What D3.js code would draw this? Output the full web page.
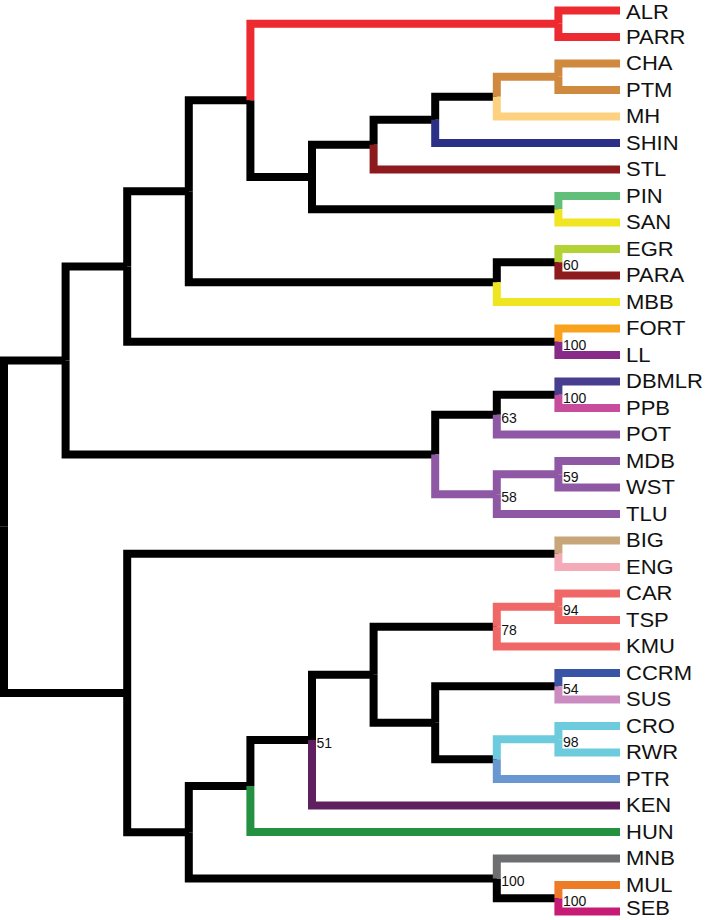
<!DOCTYPE html>
<html>
<head>
<meta charset="utf-8">
<script src="https://cdn.jsdelivr.net/npm/d3@7"></script>
<style>
  html, body { margin: 0; padding: 0; background: #ffffff; }
  svg { display: block; }
</style>
</head>
<body>
<div id="chart"></div>
<script>
// ---- DATA ----
// Tip (leaf) labels in plotting order, top to bottom
const tipLabels = ["ALR","PARR","CHA","PTM","MH","SHIN","STL","PIN","SAN","EGR","PARA","MBB",
  "FORT","LL","DBMLR","PPB","POT","MDB","WST","TLU","BIG","ENG","CAR","TSP","KMU","CCRM","SUS",
  "CRO","RWR","PTR","KEN","HUN","MNB","MUL","SEB"];

// Tree nodes (preorder): id, parent id, depth level (cladogram column), incoming-edge colour, support value
const nodeIds = ["root","nA","nB","nC","nF","nALRPARR","ALR","PARR","nG","nI","nJ","nK","nCHAPTM","CHA","PTM","MH","SHIN","STL",
  "nPINSAN","PIN","SAN","nH","nEGRPARA","EGR","PARA","MBB","nFORTLL","FORT","LL",
  "nP","nQ","nDP","DBMLR","PPB","POT","nR","nMW","MDB","WST","TLU",
  "nD","nBE","BIG","ENG","nE","nS","nT","nU","nV","nCT","CAR","TSP","KMU","nW","nCS","CCRM","SUS",
  "nX","nCR","CRO","RWR","PTR","KEN","HUN","nY","MNB","nMS","MUL","SEB"];
const nodeParents = ["","root","nA","nB","nC","nF","nALRPARR","nALRPARR","nF","nG","nI","nJ","nK","nCHAPTM","nCHAPTM","nK","nJ","nI",
  "nG","nPINSAN","nPINSAN","nC","nH","nEGRPARA","nEGRPARA","nH","nB","nFORTLL","nFORTLL",
  "nA","nP","nQ","nDP","nDP","nQ","nP","nR","nMW","nMW","nR",
  "root","nD","nBE","nBE","nD","nE","nS","nT","nU","nV","nCT","nCT","nV","nU","nW","nCS","nCS",
  "nW","nX","nCR","nCR","nX","nT","nS","nE","nY","nY","nMS","nMS"];
const nodeDepths = [0,1,2,3,4,9,10,10,5,6,7,8,9,10,10,10,10,10,
  9,10,10,8,9,10,10,10,9,10,10,
  7,8,9,10,10,10,8,9,10,10,10,
  2,9,10,10,3,4,5,6,8,9,10,10,10,7,9,10,10,
  8,9,10,10,10,10,10,8,10,9,10,10];
const nodeColors = ["#000000","#000000","#000000","#000000","#000000","#ec2a2f","#ec2a2f","#ec2a2f","#000000","#000000","#000000","#000000","#d08a40","#d08a40","#d08a40","#fdd17f","#2c2f86","#8d1a1d",
  "#000000","#62bf7a","#efe621","#000000","#000000","#b3d235","#8d1a1d","#efe621","#000000","#f8a21d","#882a87",
  "#000000","#000000","#000000","#473e8e","#c74c9c","#8e58a5","#8e58a5","#8e58a5","#8e58a5","#8e58a5","#8e58a5",
  "#000000","#000000","#c9a57a","#f5aab7","#000000","#000000","#000000","#000000","#000000","#f06767","#f06767","#f06767","#f06767","#000000","#000000","#3954a4","#cb8bc1",
  "#000000","#6ccbdc","#6ccbdc","#6ccbdc","#6897d2","#5f205f","#23913f","#000000","#6d6e70","#000000","#ee7b26","#c71c76"];
const nodeSupport = ["","","","","","","","","","","","","","","","","","",
  "","","","","60","","","","100","","",
  "","63","100","","","","58","59","","","",
  "","","","","","","51","","78","94","","","","","54","","",
  "","98","","","","","","100","","100","",""];

// ---- LAYOUT ----
const W = 709, H = 920;
const svg = d3.select("#chart").append("svg").attr("width", W).attr("height", H);

const rows = nodeIds.map((id, i) => ({id, parent: nodeParents[i] || null, depth: nodeDepths[i], color: nodeColors[i], support: nodeSupport[i]}));
const root = d3.stratify().id(d => d.id).parentId(d => d.parent)(rows);

const x = d3.scaleLinear().domain([0, 10]).range([4, 620]);
const yLeaf = d3.scalePoint().domain(tipLabels).range([10.5, 911.5]);

root.eachAfter(n => {
  n.px = x(n.data.depth);
  if (!n.children) n.py = yLeaf(n.data.id);
  else n.py = d3.mean(n.children, c => c.py);
});

const edges = root.descendants().filter(n => n.parent).sort((a, b) => a.data.depth - b.data.depth || a.parent.data.depth - b.parent.data.depth);

svg.append("g").selectAll("path").data(edges).join("path")
  .attr("d", n => `M${n.parent.px},${n.parent.py}V${n.py}H${n.px}`)
  .attr("fill", "none")
  .attr("stroke", n => n.data.color)
  .attr("stroke-width", 8)
  .attr("stroke-linecap", "butt")
  .attr("stroke-linejoin", "miter");

// support values
svg.append("g").selectAll("text").data(root.descendants().filter(n => n.data.support)).join("text")
  .attr("x", n => n.px + 4.5)
  .attr("y", n => n.py + 8)
  .attr("font-family", "'Liberation Sans', Arial, Helvetica, sans-serif")
  .attr("font-size", 14)
  .attr("fill", "#111")
  .text(n => n.data.support);

// tip labels
const fs = 20;
const minBase = fs * 0.905 + 0.5, maxBase = H - fs * 0.212 - 0.5;
svg.append("g").selectAll("text").data(root.leaves()).join("text")
  .attr("transform", n => `translate(626,${Math.min(maxBase, Math.max(minBase, n.py + 6.5))}) scale(1.1,1)`)
  .attr("font-family", "'Liberation Sans', Arial, Helvetica, sans-serif")
  .attr("font-size", fs)
  .attr("fill", "#111")
  .text(n => n.data.id);
</script>
</body>
</html>
